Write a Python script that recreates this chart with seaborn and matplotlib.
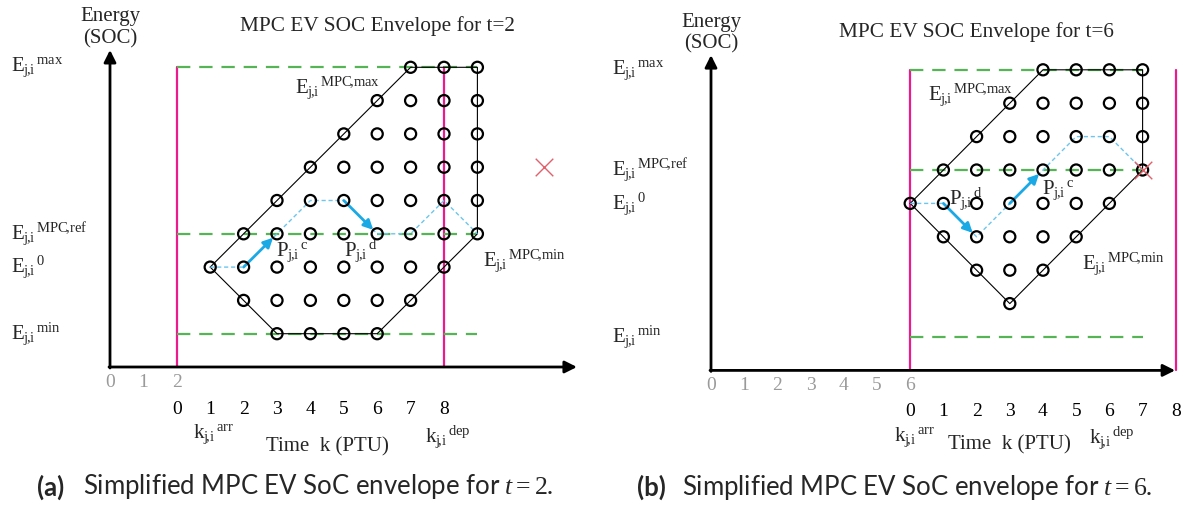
import numpy as np
import pandas as pd
import matplotlib.pyplot as plt
import seaborn as sns

sns.set_theme(style="white")
plt.rcParams['font.family'] = ['Liberation Serif', 'DejaVu Serif']
plt.rcParams['mathtext.fontset'] = 'custom'
plt.rcParams['mathtext.rm'] = 'Liberation Serif'
plt.rcParams['mathtext.it'] = 'Liberation Serif:italic'
plt.rcParams['mathtext.bf'] = 'Liberation Serif:bold'

# ---- panel (a): t = 2 ----
t_a = 2
rows_a_level = [9, 8, 7, 6, 5, 4, 3, 2, 1]
rows_a_kfrom = [7, 6, 5, 4, 3, 2, 1, 2, 3]
rows_a_kto = [9, 9, 9, 9, 9, 9, 8, 7, 6]
env_a_k = [1, 2, 3, 4, 5, 6, 7, 9, 9, 8, 7, 6, 3, 2, 1]
env_a_e = [3, 4, 5, 6, 7, 8, 9, 9, 4, 3, 2, 1, 1, 2, 3]
traj_a_k = [1, 2, 3, 4, 5, 6, 7, 8, 9]
traj_a_e = [3, 3, 4, 5, 5, 4, 4, 5, 4]
arrows_a = [1, 4]          # trajectory segments drawn as P^c / P^d arrows
ref_a = {'max': 9, 'MPC,ref': 4, '0': 3, 'min': 1}
dep_a = 8
kend_a = 9
cross_a = (11, 6)

# ---- panel (b): t = 6 ----
t_b = 6
rows_b_level = [9, 8, 7, 6, 5, 4, 3, 2]
rows_b_kfrom = [4, 3, 2, 1, 0, 1, 2, 3]
rows_b_kto = [7, 7, 7, 7, 6, 5, 4, 3]
env_b_k = [0, 1, 2, 3, 4, 7, 7, 6, 5, 4, 3, 2, 1, 0]
env_b_e = [5, 6, 7, 8, 9, 9, 6, 5, 4, 3, 2, 3, 4, 5]
traj_b_k = [0, 1, 2, 3, 4, 5, 6, 7]
traj_b_e = [5, 5, 4, 5, 6, 7, 7, 6]
arrows_b = [1, 3]
ref_b = {'max': 9, 'MPC,ref': 6, '0': 5, 'min': 1}
dep_b = 8
kend_b = 7
cross_b = (7, 6)

GREEN = '#55b455'
PINK = '#ec1a8c'
BLUE = '#1ba9e6'
LBLUE = '#6cc6ee'
RED = '#e2606a'
GRAY = '#9a9a9a'


def lab(base, sup):
    sup = r"\!\mathrm{,}".join(r"\mathrm{" + s + "}" for s in sup.split(','))
    return (r"$\mathrm{" + base + r"}_{\mathrm{j}\!\mathrm{,}\mathrm{i}}{}^{\,"
            + sup + "}$")


def draw_panel(ax, t0, levels, kfrom, kto, env_k, env_e, tk, te, arrows,
               refs, dep, kend, cross, xlim, ylim, lay, letter):
    ax.set_xlim(*xlim)
    ax.set_ylim(*ylim)
    ax.axis('off')

    # axes arrows
    ax.annotate('', xy=(0, lay['ytip']), xytext=(0, -0.03),
                arrowprops=dict(arrowstyle='-|>', color='black', lw=2,
                                mutation_scale=18, shrinkA=0, shrinkB=0))
    ax.annotate('', xy=(13.98, 0), xytext=(-0.03, 0),
                arrowprops=dict(arrowstyle='-|>', color='black', lw=2,
                                mutation_scale=18, shrinkA=0, shrinkB=0))

    # arrival / departure bounds
    ax.plot([t0, t0], [0, refs['max']], color=PINK, lw=1.6, zorder=2)
    ax.plot([t0 + dep, t0 + dep], [0, refs['max']], color=PINK, lw=1.6, zorder=2)

    # energy limits
    for key in ['max', 'MPC,ref', 'min']:
        ax.plot([t0, t0 + kend], [refs[key], refs[key]], color=GREEN, lw=1.6,
                linestyle=(0, (6, 4)), zorder=2)

    # envelope
    sns.lineplot(x=np.array(env_k) + t0, y=env_e, sort=False, estimator=None,
                 color='black', lw=0.8, ax=ax, zorder=3)

    # trajectory
    sns.lineplot(x=np.array(tk) + t0, y=te, sort=False, estimator=None,
                 color=LBLUE, lw=1.0, linestyle=(0, (3, 2)), ax=ax, zorder=3)
    for i in arrows:
        ax.annotate('', xy=(tk[i + 1] + t0, te[i + 1]), xytext=(tk[i] + t0, te[i]),
                    arrowprops=dict(arrowstyle='-|>', color=BLUE, lw=2,
                                    mutation_scale=14, shrinkA=0, shrinkB=4),
                    zorder=4)

    # grid points
    pts = pd.DataFrame([(k + t0, lv) for lv, a, b in zip(levels, kfrom, kto)
                        for k in range(a, b + 1)], columns=['x', 'y'])
    sns.scatterplot(data=pts, x='x', y='y', s=64, facecolor='none',
                    edgecolor='black', linewidth=1.6, ax=ax, zorder=5)

    sns.scatterplot(x=[cross[0] + t0], y=[cross[1]], marker='x', s=160,
                    color=RED, linewidth=1.0, ax=ax, zorder=6)

    # tick labels
    for g in range(0, t0 + 1):
        ax.text(g, lay['gtick'], str(g), ha='center', va='center',
                fontsize=14, color=GRAY)
    for k in range(0, 9):
        ax.text(k + t0, lay['ltick'], str(k), ha='center', va='center',
                fontsize=14, color='black')

    # side labels
    for key, lv in refs.items():
        ax.text(-2.97, lv, lab('E', key), fontsize=15, va='center')

    ax.text(0, lay['energy'], 'Energy\n(SOC)', ha='center', va='center',
            fontsize=15, linespacing=1.2)
    ax.text(8.0, lay['title'], 'MPC EV SOC Envelope for t=%d' % t0,
            ha='center', va='center', fontsize=15.3)

    for (base, sup), (x, y) in lay['notes'].items():
        ax.text(x, y, lab(base, sup), fontsize=15, va='center')

    ax.text(lay['time'][0], lay['time'][1], r'Time  k (PTU)', ha='center',
            va='center', fontsize=15)

    # caption
    ax.text(lay['cap'][0], lay['cap'][1], '(%s)' % letter, fontsize=18.5,
            fontweight='bold', family='Lato', va='center')
    ax.text(lay['cap'][0] + 1.38, lay['cap'][1],
            r'Simplified MPC EV SoC envelope for $t{=}%d$.' % t0,
            fontsize=18.5, family='Lato', va='center')


fig = plt.figure(figsize=(11.94, 5.09), dpi=100)
axA = fig.add_axes([0, 0, 597 / 1194, 1])
axB = fig.add_axes([597 / 1194, 0, 597 / 1194, 1])

lay_a = dict(ytip=9.52, gtick=-0.48, ltick=-1.29, energy=10.18,
             title=10.24, time=(6.5, -2.4), cap=(-2.18, -3.6),
             notes={('E', 'MPC,max'): (5.53, 8.4),
                    ('E', 'MPC,min'): (11.16, 3.2),
                    ('P', 'c'): (4.96, 3.45),
                    ('P', 'd'): (7.02, 3.5),
                    ('k', 'arr'): (2.49, -2.01),
                    ('k', 'dep'): (9.42, -2.1)})
lay_b = dict(ytip=9.44, gtick=-0.44, ltick=-1.24, energy=10.1,
             title=10.13, time=(9.0, -2.23), cap=(-2.24, -3.5),
             notes={('E', 'MPC,max'): (6.54, 8.25),
                    ('E', 'MPC,min'): (11.17, 3.2),
                    ('P', 'd'): (7.17, 5.15),
                    ('P', 'c'): (9.97, 5.4),
                    ('k', 'arr'): (5.51, -2.0),
                    ('k', 'dep'): (11.4, -2.0)})

draw_panel(axA, t_a, rows_a_level, rows_a_kfrom, rows_a_kto, env_a_k, env_a_e,
           traj_a_k, traj_a_e, arrows_a, ref_a, dep_a, kend_a, cross_a,
           (-110 / 33.4, 487 / 33.4), (-142 / 33.3, 367 / 33.3), lay_a, 'a')
draw_panel(axB, t_b, rows_b_level, rows_b_kfrom, rows_b_kto, env_b_k, env_b_e,
           traj_b_k, traj_b_e, arrows_b, ref_b, dep_b, kend_b, cross_b,
           (-114 / 33.2, 483 / 33.2), (-138.6 / 33.4, 370.4 / 33.4), lay_b, 'b')

fig.savefig('out.png', dpi=100)
